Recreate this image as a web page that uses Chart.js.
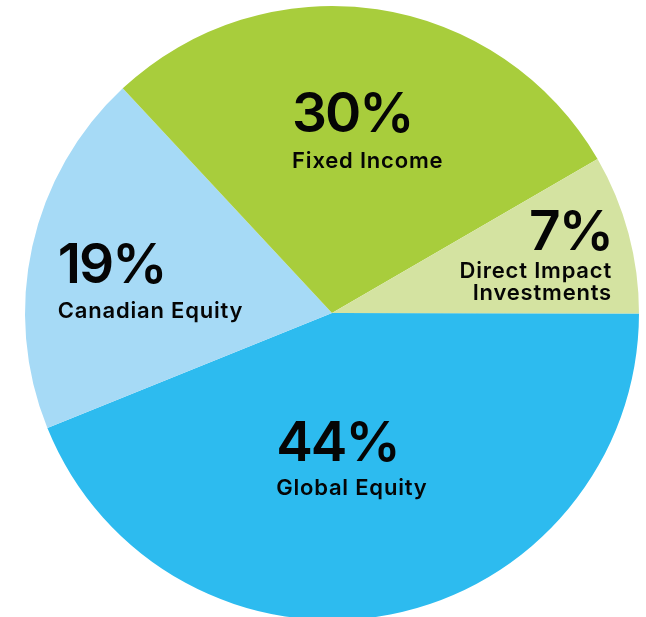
<!DOCTYPE html>
<html>
<head>
<meta charset="utf-8">
<script src="https://cdn.jsdelivr.net/npm/chart.js@4/dist/chart.umd.min.js"></script>
<style>
  html, body { margin: 0; padding: 0; background: #ffffff; overflow: hidden; width: 646px; height: 617px; }
  canvas { display: block; }
</style>
</head>
<body>
<canvas id="c" width="646" height="626"></canvas>
<script>
// Data
const categories = ["Global Equity", "Canadian Equity", "Fixed Income", "Direct Impact Investments"];
const shares = [43.9, 19.2, 28.6, 8.4];              // slice sizes as drawn
const percentLabels = ["44%", "19%", "30%", "7%"];   // printed labels
const nameLines = [["Global Equity"], ["Canadian Equity"], ["Fixed Income"], ["Direct Impact", "Investments"]];
const colors = ["#2DBBEF", "#A6DAF6", "#A8CD3C", "#D4E3A1"];

// label placement (fractions of radius from centre), alignment and line gaps
const labelPlacement = [
  { fx: -0.182, fy: 0.482, align: "left",  gap: 34, lineGap: 22 },
  { fx: -0.893, fy: -0.098, align: "left", gap: 35, lineGap: 22 },
  { fx: -0.130, fy: -0.590, align: "left", gap: 36, lineGap: 22 },
  { fx: 0.912, fy: -0.205, align: "right", gap: 28, lineGap: 22 }
];

const labelPlugin = {
  id: "sliceLabels",
  afterDatasetsDraw(chart) {
    const ctx = chart.ctx;
    const meta = chart.getDatasetMeta(0);
    const arc0 = meta.data[0];
    const cx = arc0.x, cy = arc0.y, r = arc0.outerRadius;
    ctx.save();
    ctx.fillStyle = "#050505";
    ctx.textBaseline = "alphabetic";
    percentLabels.forEach((p, i) => {
      const pl = labelPlacement[i];
      const x = cx + pl.fx * r;
      const y = cy + pl.fy * r;
      ctx.textAlign = pl.align;
      ctx.font = "600 55px Inter";
      ctx.letterSpacing = "-2px";
      ctx.fillText(p, x, y);
      ctx.font = "600 22px Inter";
      ctx.letterSpacing = "0.8px";
      nameLines[i].forEach((line, k) => {
        ctx.fillText(line, x, y + pl.gap + k * pl.lineGap);
      });
    });
    ctx.restore();
  }
};

new Chart(document.getElementById("c"), {
  type: "pie",
  data: {
    labels: categories,
    datasets: [{
      data: shares,
      backgroundColor: colors,
      borderWidth: 0,
      hoverOffset: 0,
      offset: 0
    }]
  },
  options: {
    responsive: false,
    devicePixelRatio: 1,
    animation: false,
    events: [],
    rotation: 90.1,
    layout: { padding: { left: 25, right: 7, top: 6, bottom: 6 } },
    plugins: {
      legend: { display: false },
      tooltip: { enabled: false }
    }
  },
  plugins: [labelPlugin]
});
</script>
</body>
</html>
